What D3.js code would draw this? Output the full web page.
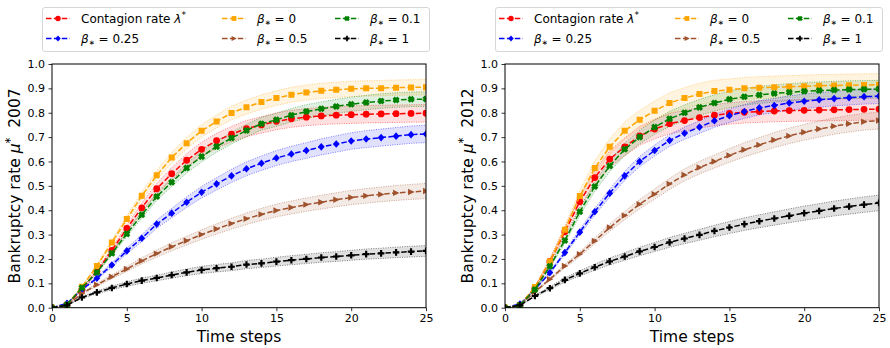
<!DOCTYPE html>
<html>
<head>
<meta charset="utf-8">
<script src="https://cdn.jsdelivr.net/npm/d3@7"></script>
<style>
  body { margin: 0; background: #fff; }
  svg text { font-family: 'DejaVu Sans', sans-serif; fill: #000; white-space: pre; }
</style>
</head>
<body>
<div id="chart"></div>
<script>
// time axis
const timeSteps = [0, 1, 2, 3, 4, 5, 6, 7, 8, 9, 10, 11, 12, 13, 14, 15, 16, 17, 18, 19, 20, 21, 22, 23, 24, 25];
const xTicks = [0, 5, 10, 15, 20, 25];
const yTicks = [0, 0.1, 0.2, 0.3, 0.4, 0.5, 0.6, 0.7, 0.8, 0.9, 1.0];

// series: contagion, beta=0, beta=0.1, beta=0.25, beta=0.5, beta=1
const seriesKeys = ['contagion', 'b0', 'b01', 'b025', 'b05', 'b1'];
const seriesLabels = ['Contagion rate λ^*', 'β_* = 0', 'β_* = 0.1', 'β_* = 0.25', 'β_* = 0.5', 'β_* = 1'];
const seriesColors = ['#ff0000', '#ffa500', '#008000', '#0000ff', '#a0522d', '#000000'];
const seriesMarkers = ['circle', 'square', 'xfill', 'diamond', 'triright', 'plusfill'];
// legend is filled column by column (ncol = 3)
const legendOrder = ['contagion', 'b025', 'b0', 'b05', 'b01', 'b1'];

// 2007
const contagion2007 = [0, 0.01, 0.075, 0.15, 0.235, 0.325, 0.41, 0.488, 0.55, 0.605, 0.65, 0.685, 0.712, 0.735, 0.75, 0.765, 0.775, 0.782, 0.787, 0.79, 0.792, 0.794, 0.795, 0.796, 0.797, 0.798];
const b0_2007 = [0, 0.012, 0.086, 0.171, 0.268, 0.364, 0.459, 0.543, 0.616, 0.675, 0.726, 0.764, 0.799, 0.823, 0.844, 0.86, 0.874, 0.883, 0.89, 0.894, 0.898, 0.9, 0.901, 0.903, 0.904, 0.905];
const b01_2007 = [0, 0.012, 0.082, 0.145, 0.223, 0.303, 0.381, 0.456, 0.515, 0.573, 0.62, 0.661, 0.696, 0.727, 0.755, 0.771, 0.79, 0.805, 0.816, 0.826, 0.835, 0.842, 0.848, 0.852, 0.855, 0.856];
const b025_2007 = [0, 0.018, 0.075, 0.121, 0.175, 0.233, 0.285, 0.343, 0.388, 0.433, 0.474, 0.508, 0.541, 0.57, 0.593, 0.614, 0.631, 0.645, 0.66, 0.672, 0.684, 0.692, 0.698, 0.704, 0.71, 0.713];
const b05_2007 = [0, 0.01, 0.058, 0.094, 0.127, 0.159, 0.192, 0.222, 0.25, 0.275, 0.3, 0.323, 0.345, 0.365, 0.383, 0.399, 0.411, 0.423, 0.433, 0.443, 0.452, 0.459, 0.465, 0.471, 0.475, 0.479];
const b1_2007 = [0, 0.01, 0.042, 0.063, 0.081, 0.097, 0.111, 0.122, 0.134, 0.145, 0.155, 0.162, 0.168, 0.177, 0.182, 0.189, 0.195, 0.2, 0.206, 0.21, 0.215, 0.22, 0.223, 0.227, 0.23, 0.233];
const bandSpread2007 = [0.045, 0.035, 0.035, 0.05, 0.065, 0.095];

// 2012
const contagion2012 = [0, 0.01, 0.08, 0.19, 0.312, 0.435, 0.534, 0.61, 0.66, 0.705, 0.733, 0.755, 0.768, 0.78, 0.79, 0.797, 0.802, 0.805, 0.807, 0.809, 0.81, 0.811, 0.812, 0.813, 0.814, 0.815];
const b0_2012 = [0, 0.01, 0.085, 0.19, 0.32, 0.458, 0.573, 0.66, 0.726, 0.771, 0.808, 0.84, 0.86, 0.877, 0.889, 0.894, 0.9, 0.903, 0.905, 0.907, 0.909, 0.911, 0.912, 0.913, 0.914, 0.915];
const b01_2012 = [0, 0.01, 0.075, 0.17, 0.276, 0.394, 0.497, 0.582, 0.65, 0.7, 0.741, 0.775, 0.8, 0.822, 0.84, 0.855, 0.866, 0.873, 0.879, 0.884, 0.888, 0.891, 0.893, 0.895, 0.896, 0.897];
const b025_2012 = [0, 0.015, 0.075, 0.144, 0.226, 0.31, 0.394, 0.47, 0.541, 0.6, 0.645, 0.686, 0.716, 0.741, 0.767, 0.788, 0.805, 0.82, 0.83, 0.84, 0.847, 0.853, 0.858, 0.862, 0.866, 0.868];
const b05_2012 = [0, 0.01, 0.065, 0.117, 0.171, 0.22, 0.274, 0.329, 0.378, 0.425, 0.466, 0.508, 0.545, 0.575, 0.6, 0.625, 0.648, 0.668, 0.688, 0.705, 0.72, 0.733, 0.745, 0.755, 0.763, 0.768];
const b1_2012 = [0, 0.01, 0.048, 0.08, 0.114, 0.141, 0.166, 0.19, 0.21, 0.231, 0.249, 0.268, 0.284, 0.299, 0.315, 0.329, 0.343, 0.355, 0.366, 0.377, 0.388, 0.397, 0.407, 0.415, 0.423, 0.43];
const bandSpread2012 = [0.055, 0.05, 0.04, 0.035, 0.045, 0.075];

const width = 890, height = 348;
const plotW = 374, plotTop = 64, plotBottom = 307.7;

const panels = [
  { year: '2007', left: 52, values: [contagion2007, b0_2007, b01_2007, b025_2007, b05_2007, b1_2007], spread: bandSpread2007 },
  { year: '2012', left: 505, values: [contagion2012, b0_2012, b01_2012, b025_2012, b05_2012, b1_2012], spread: bandSpread2012 },
];

// marker outlines, centred on 0,0 (ms ~ 6-7px)
const plusPts = [[-1,-3],[1,-3],[1,-1],[3,-1],[3,1],[1,1],[1,3],[-1,3],[-1,1],[-3,1],[-3,-1],[-1,-1]];
const fatPlusPts = [[-1.4,-3],[1.4,-3],[1.4,-1.4],[3,-1.4],[3,1.4],[1.4,1.4],[1.4,3],[-1.4,3],[-1.4,1.4],[-3,1.4],[-3,-1.4],[-1.4,-1.4]];
function polyPath(pts) { return 'M' + pts.map((p) => p.join(',')).join('L') + 'Z'; }
const markerPaths = {
  circle: d3.symbol(d3.symbolCircle, Math.PI * 3.4 * 3.4)(),
  square: 'M-3,-3H3V3H-3Z',
  diamond: 'M0,-3.8L3.4,0L0,3.8L-3.4,0Z',
  triright: 'M3.4,0L-3,3.2L-3,-3.2Z',
  plusfill: polyPath(plusPts.map(([a, b]) => [a * 1.1, b * 1.1])),
  xfill: polyPath(fatPlusPts.map(([a, b]) => [(a - b) * 0.8, (a + b) * 0.8])),
};

const svg = d3
  .select('#chart')
  .append('svg')
  .attr('width', width)
  .attr('height', height)
  .attr('viewBox', [0, 0, width, height]);

function mathText(sel, str, base) {
  // ^* -> superscript, _* -> subscript, greek letters italic
  const parts = str.split(/(\^\*|_\*|[λβμ])/).filter((p) => p !== '');
  let shift = 0;
  parts.forEach((p) => {
    const t = sel.append('tspan');
    let target = 0;
    if (p === '^*') {
      t.text('*').attr('font-size', base * 0.75);
      target = -0.42;
    } else if (p === '_*') {
      t.text('∗').attr('font-size', base * 0.6);
      target = 0.15;
    } else {
      t.text(p);
      if (/[λβμ]/.test(p)) t.attr('font-style', 'italic');
    }
    if (target !== shift) t.attr('dy', (target - shift) * base);
    shift = target;
  });
}

panels.forEach((panel, pi) => {
  const x = d3.scaleLinear().domain([0, 25]).range([panel.left, panel.left + plotW]);
  const y = d3.scaleLinear().domain([0, 1]).range([plotBottom, plotTop]);

  const clipId = `clip${pi}`;
  svg.append('clipPath').attr('id', clipId)
    .append('rect')
    .attr('x', panel.left).attr('y', plotTop)
    .attr('width', plotW).attr('height', plotBottom - plotTop);

  const g = svg.append('g').attr('clip-path', `url(#${clipId})`);

  // confidence bands
  seriesKeys.forEach((key, i) => {
    const vals = panel.values[i];
    const s = panel.spread[i];
    const pts = timeSteps.map((t, j) => ({ t, lo: vals[j] * (1 - s), hi: vals[j] * (1 + s) }));
    g.append('path')
      .datum(pts)
      .attr('fill', seriesColors[i])
      .attr('fill-opacity', 0.12)
      .attr('d', d3.area().x((d) => x(d.t)).y0((d) => y(d.lo)).y1((d) => y(d.hi)));
    ['lo', 'hi'].forEach((edge) => {
      g.append('path')
        .datum(pts)
        .attr('fill', 'none')
        .attr('stroke', seriesColors[i])
        .attr('stroke-opacity', 0.6)
        .attr('stroke-width', 0.8)
        .attr('stroke-dasharray', '1,1.4')
        .attr('d', d3.line().x((d) => x(d.t)).y((d) => y(d[edge])));
    });
  });

  // dashed lines with markers
  const drawOrder = [0, 3, 1, 4, 2, 5];
  drawOrder.forEach((i) => {
    const vals = panel.values[i];
    const pts = timeSteps.map((t, j) => ({ t, v: vals[j] }));
    g.append('path')
      .datum(pts)
      .attr('fill', 'none')
      .attr('stroke', seriesColors[i])
      .attr('stroke-width', 1.5)
      .attr('stroke-dasharray', '5.5,2.4')
      .attr('d', d3.line().x((d) => x(d.t)).y((d) => y(d.v)));
    g.selectAll(null)
      .data(pts)
      .join('path')
      .attr('fill', seriesColors[i])
      .attr('transform', (d) => `translate(${x(d.t)},${y(d.v)})`)
      .attr('d', markerPaths[seriesMarkers[i]]);
  });

  // axes
  const xAxis = svg.append('g')
    .attr('transform', `translate(0,${plotBottom})`)
    .call(d3.axisBottom(x).tickValues(xTicks).tickSize(3.5).tickPadding(3.5).tickFormat(d3.format('d')));
  const yAxis = svg.append('g')
    .attr('transform', `translate(${panel.left},0)`)
    .call(d3.axisLeft(y).tickValues(yTicks).tickSize(3.5).tickPadding(3.5).tickFormat(d3.format('.1f')));
  [xAxis, yAxis].forEach((a) => {
    a.select('.domain').remove();
    a.selectAll('line').attr('stroke', '#000').attr('stroke-width', 0.8);
    a.selectAll('text').attr('font-size', 11).attr('font-family', 'DejaVu Sans').attr('fill', '#000');
  });

  svg.append('rect')
    .attr('x', panel.left).attr('y', plotTop)
    .attr('width', plotW).attr('height', plotBottom - plotTop)
    .attr('fill', 'none').attr('stroke', '#000').attr('stroke-width', 1);

  svg.append('text')
    .attr('x', panel.left + plotW / 2)
    .attr('y', 342)
    .attr('text-anchor', 'middle')
    .attr('font-size', 15.5)
    .text('Time steps');

  const yl = svg.append('text')
    .attr('transform', `translate(${panel.left - 32},${(plotTop + plotBottom) / 2}) rotate(-90)`)
    .attr('text-anchor', 'middle')
    .attr('font-size', 15.5);
  mathText(yl, `Bankruptcy rate μ^*  ${panel.year}`, 15.5);

  // legend
  const lx = panel.left - 10, ly = 7;
  const leg = svg.append('g').attr('transform', `translate(${lx},${ly})`);
  leg.append('rect')
    .attr('x', 0.5).attr('y', 0.5)
    .attr('width', 387).attr('height', 44)
    .attr('rx', 2.5)
    .attr('fill', '#fff').attr('fill-opacity', 0.8)
    .attr('stroke', '#d6d6d6').attr('stroke-width', 1);
  const colX = [4, 180, 293];
  const rowY = [11.5, 31.5];
  legendOrder.forEach((key, k) => {
    const i = seriesKeys.indexOf(key);
    const cx = colX[Math.floor(k / 2)];
    const cy = rowY[k % 2];
    leg.append('line')
      .attr('x1', cx).attr('x2', cx + 24)
      .attr('y1', cy).attr('y2', cy)
      .attr('stroke', seriesColors[i])
      .attr('stroke-width', 1.5)
      .attr('stroke-dasharray', '5.5,2.4');
    leg.append('path')
      .attr('fill', seriesColors[i])
      .attr('transform', `translate(${cx + 12},${cy}) scale(0.8)`)
      .attr('d', markerPaths[seriesMarkers[i]]);
    const tx = leg.append('text')
      .attr('x', cx + 35)
      .attr('y', cy + 4.3)
      .attr('font-size', 12);
    mathText(tx, seriesLabels[i], 12);
  });
});
</script>
</body>
</html>
